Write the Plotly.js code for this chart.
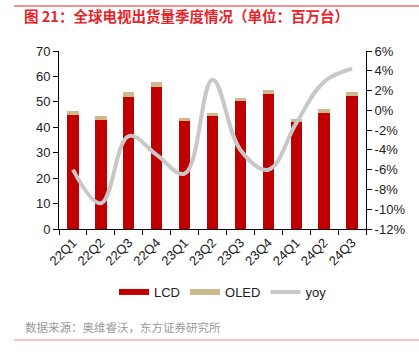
<!DOCTYPE html>
<html><head><meta charset="utf-8">
<script src="https://cdn.plot.ly/plotly-3.0.1.min.js"></script>
<style>html,body{margin:0;padding:0;background:#fff}</style>
</head><body><div id="chart" style="width:419px;height:355px"></div>
<script>
const categories = ["22Q1","22Q2","22Q3","22Q4","23Q1","23Q2","23Q3","23Q4","24Q1","24Q2","24Q3"];
const lcd  = [44.8, 42.9, 52.0, 55.7, 42.5, 44.6, 50.2, 53.0, 42.0, 45.6, 52.2];
const oled = [1.6, 1.4, 2.0, 2.2, 1.1, 1.0, 1.5, 1.7, 1.3, 1.6, 1.7];
const yoy  = [-6.0, -9.4, -2.6, -4.5, -6.4, 3.1, -4.0, -6.0, -1.3, 2.9, 4.2];
const yoyTicks = [6,4,2,0,-2,-4,-6,-8,-10,-12];

const L=59, R=366, T=51, B=229;
const px = x => (x-L)/(R-L);
const py = y => (B-y)/(B-T);
const font = "Liberation Sans, Arial, sans-serif";
const cjk = "Noto Sans CJK SC, sans-serif";
const RED="#C00000", TAN="#CBBA8E", GRAY="#C8C8C8";

const traces = [
  {type:"bar", name:"LCD", x:categories, y:lcd, marker:{color:RED}, width:0.41, showlegend:false},
  {type:"bar", name:"OLED", x:categories, y:oled, marker:{color:TAN}, width:0.41, showlegend:false},
  {type:"scatter", mode:"lines", name:"yoy", x:categories, y:yoy, yaxis:"y2", showlegend:false,
   line:{color:GRAY, width:4, shape:"spline", smoothing:1.1}},
  // legend-only entries (wide swatches like the reference)
  {type:"scatter", mode:"lines", name:"LCD", x:[null], y:[null], line:{color:RED, width:6}},
  {type:"scatter", mode:"lines", name:"OLED", x:[null], y:[null], line:{color:TAN, width:6}},
  {type:"scatter", mode:"lines", name:"yoy", x:[null], y:[null], yaxis:"y2", line:{color:GRAY, width:4}}
];

const layout = {
  width:419, height:355,
  margin:{l:L, r:419-R, t:T, b:355-B},
  barmode:"stack",
  showlegend:true,
  plot_bgcolor:"#fff", paper_bgcolor:"#fff",
  font:{family:font, size:13, color:"#222"},
  title:{text:"图 21：全球电视出货量季度情况（单位：百万台）", font:{family:cjk, size:14.5, color:"#E8232A", weight:"bold"},
    xref:"container", yref:"container", x:24/419, xanchor:"left", y:1-17/355, yanchor:"middle"},
  xaxis:{type:"category", showline:true, linecolor:"#000", linewidth:1, ticks:"outside", ticklen:5,
    tickcolor:"#000", tickson:"boundaries", tickangle:-45, showgrid:false, zeroline:false,
    tickfont:{size:13, color:"#222"}},
  yaxis:{range:[0,70], dtick:10, showline:true, linecolor:"#000", ticks:"outside", ticklen:5, tickcolor:"#000",
    showgrid:false, zeroline:false, tickfont:{size:13}},
  yaxis2:{range:[-12,6], overlaying:"y", side:"right", tickvals:yoyTicks, ticktext:yoyTicks.map(v=>v+"%"),
    showline:true, linecolor:"#000", ticks:"outside", ticklen:5, tickcolor:"#000", showgrid:false, zeroline:false,
    tickfont:{size:13}},
  legend:{orientation:"h", x:px(223), xanchor:"center", y:py(292), yanchor:"middle",
    font:{size:13, color:"#222"}, traceorder:"normal", itemwidth:30},
  annotations:[
    {text:"数据来源：奥维睿沃，东方证券研究所", xref:"paper", yref:"paper", x:px(23), y:py(327),
     xanchor:"left", yanchor:"middle", showarrow:false, font:{family:cjk, size:11.5, color:"#9A9A9A"}}
  ],
  shapes:[
    {type:"line", xref:"paper", yref:"paper", x0:px(14), x1:px(419), y0:py(6), y1:py(6), line:{color:"#E8232A", width:1.2}},
    {type:"line", xref:"paper", yref:"paper", x0:px(14), x1:px(419), y0:py(340), y1:py(340), line:{color:"#E88A8A", width:1.2}}
  ]
};
Plotly.newPlot("chart", traces, layout, {displayModeBar:false, staticPlot:true});
</script></body></html>
